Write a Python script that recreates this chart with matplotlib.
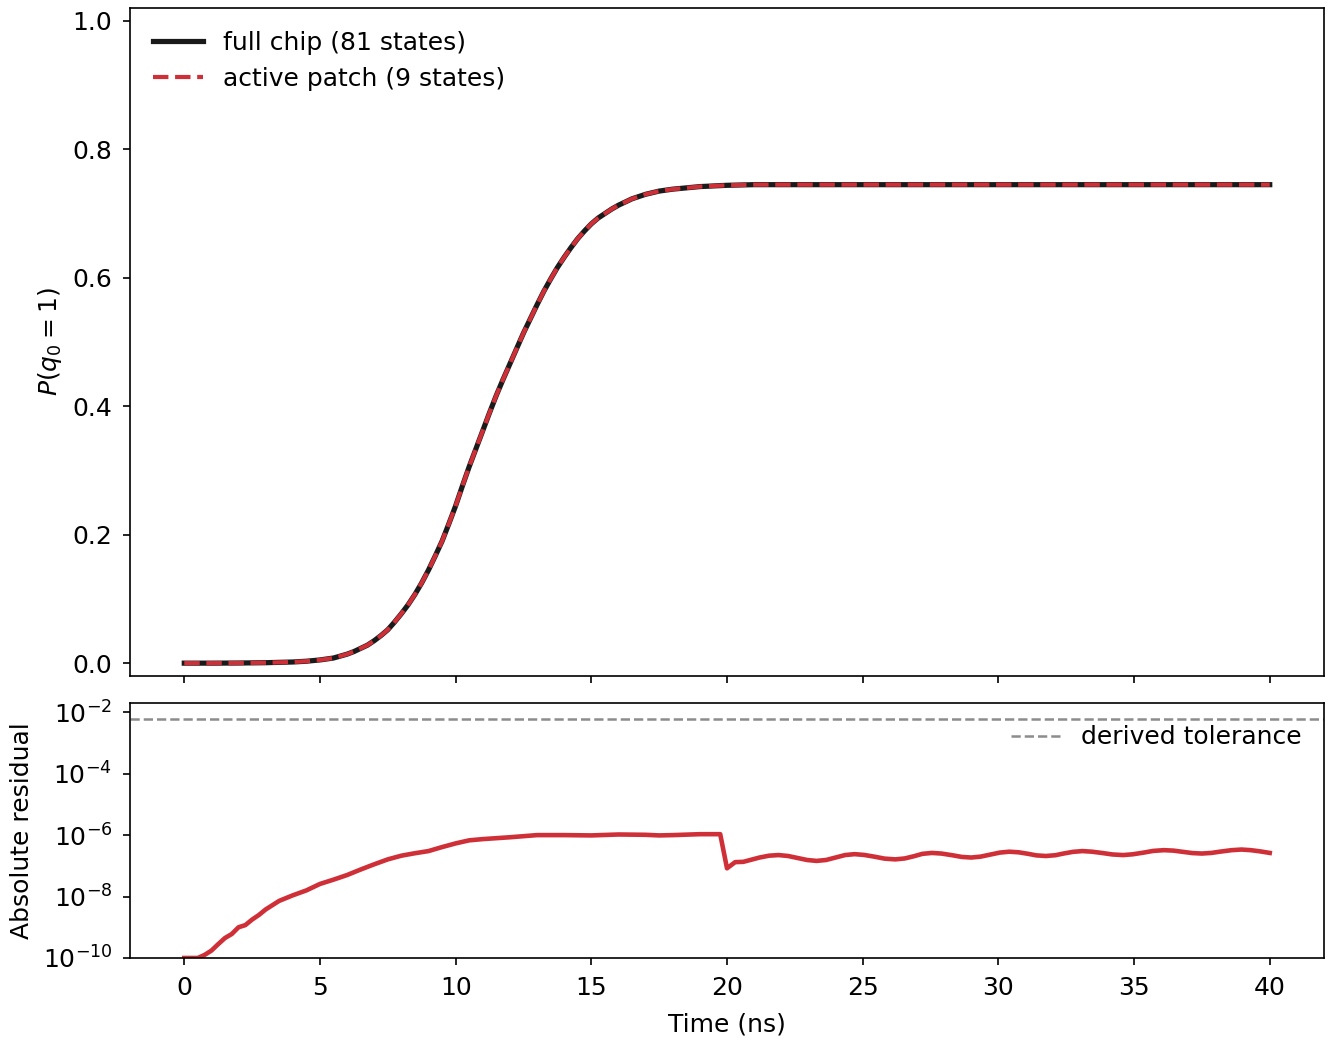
import numpy as np
import matplotlib.pyplot as plt
from matplotlib.ticker import NullLocator

plt.rcParams['font.size'] = 12
plt.rcParams['xtick.major.pad'] = 5
plt.rcParams['ytick.major.pad'] = 5

red = '#cf3038'

# population of q0
t_pop = [0, 1, 2, 3, 4, 4.5, 5, 5.5, 6, 6.25, 6.5, 6.75, 7, 7.25, 7.5, 7.75,
         8, 8.25, 8.5, 8.75, 9, 9.25, 9.5, 9.75, 10, 10.25, 10.5, 10.75, 11,
         11.25, 11.5, 11.75, 12, 12.25, 12.5, 12.75, 13, 13.25, 13.5, 13.75, 14,
         14.25, 14.5, 14.75, 15, 15.25, 15.5, 15.75, 16, 16.5, 17, 17.5, 18,
         18.5, 19, 19.5, 20, 21, 22, 24, 26, 28, 30, 32, 34, 36, 38, 40]
p_full = [0.0, 0.0, 0.0002, 0.0007, 0.0018, 0.003, 0.005, 0.008, 0.014, 0.018,
          0.023, 0.028, 0.035, 0.043, 0.052, 0.064, 0.077, 0.091, 0.107, 0.125,
          0.145, 0.167, 0.19, 0.217, 0.245, 0.276, 0.306, 0.334, 0.362, 0.390,
          0.417, 0.442, 0.466, 0.490, 0.514, 0.536, 0.558, 0.579, 0.598, 0.616,
          0.632, 0.647, 0.661, 0.673, 0.684, 0.693, 0.700, 0.707, 0.713, 0.723,
          0.730, 0.735, 0.738, 0.740, 0.742, 0.743, 0.744, 0.745, 0.745, 0.745,
          0.745, 0.745, 0.745, 0.745, 0.745, 0.745, 0.745, 0.745]
p_patch = p_full

# absolute residual |full - patch|, log10 values
t_res = [0, 0.25, 0.5, 0.75, 1.0, 1.25, 1.5, 1.75, 2.0, 2.25, 2.5, 2.75, 3.0,
         3.5, 4.0, 4.5, 5.0, 5.5, 6.0, 6.5, 7.0, 7.5, 8.0, 8.5, 9.0, 9.5, 10.0,
         10.5, 11.0, 11.5, 12.0, 13.0, 14.0, 15.0, 16.0, 17.0, 17.5, 18.0, 19.0,
         19.75, 20.0, 20.3, 20.6, 20.9, 21.2, 21.55, 21.9, 22.25, 22.6, 22.95,
         23.3, 23.65, 24.0, 24.35, 24.7, 25.05, 25.45, 25.8, 26.2, 26.55, 26.9,
         27.2, 27.55, 27.9, 28.3, 28.65, 29.0, 29.35, 29.7, 30.05, 30.4, 30.75,
         31.1, 31.4, 31.75, 32.1, 32.4, 32.75, 33.1, 33.45, 33.85, 34.2, 34.6,
         34.95, 35.35, 35.7, 36.1, 36.45, 36.8, 37.15, 37.5, 37.85, 38.2, 38.6,
         38.96, 39.3, 39.65, 40.0]
log_res = [-10.0, -10.0, -10.0, -9.9, -9.76, -9.55, -9.35, -9.22, -9.0, -8.93,
           -8.75, -8.6, -8.42, -8.14, -7.96, -7.8, -7.59, -7.45, -7.3, -7.12,
           -6.95, -6.79, -6.67, -6.59, -6.52, -6.39, -6.27, -6.17, -6.13, -6.10,
           -6.07, -6.0, -6.0, -6.01, -5.98, -5.99, -6.01, -6.0, -5.97, -5.97,
           -7.08, -6.88, -6.87, -6.8, -6.73, -6.67, -6.65, -6.68, -6.745, -6.81,
           -6.84, -6.81, -6.73, -6.65, -6.62, -6.645, -6.705, -6.765, -6.79,
           -6.76, -6.685, -6.61, -6.58, -6.60, -6.655, -6.71, -6.73, -6.70,
           -6.635, -6.57, -6.54, -6.56, -6.61, -6.66, -6.68, -6.655, -6.60,
           -6.545, -6.52, -6.54, -6.585, -6.63, -6.65, -6.625, -6.57, -6.515,
           -6.49, -6.505, -6.545, -6.585, -6.60, -6.58, -6.535, -6.49, -6.47,
           -6.49, -6.53, -6.58]
tol = 6e-3

fig, (ax1, ax2) = plt.subplots(2, 1, sharex=True, figsize=(8.88, 6.96), dpi=150,
                               gridspec_kw=dict(height_ratios=[668, 255], hspace=0.0585,
                                                left=0.0976, right=0.994,
                                                top=0.9923, bottom=0.0824))

ax1.plot(t_pop, p_full, color='0.1', lw=2.5, label='full chip (81 states)')
ax1.plot(t_pop, p_patch, color=red, lw=2, ls='--', label='active patch (9 states)')
ax1.set_ylim(-0.02, 1.02)
ax1.set_ylabel(r'$P(q_0 = 1)$')
ax1.legend(loc='upper left', frameon=False)

res = 10.0 ** np.array(log_res)
ax2.plot(t_res, res, color=red, lw=2.2)
ax2.axhline(tol, color='0.55', lw=1.2, ls='--', label='derived tolerance')
ax2.set_yscale('log')
ax2.set_ylim(1e-10, 2e-2)
ax2.set_yticks([1e-10, 1e-8, 1e-6, 1e-4, 1e-2])
ax2.yaxis.set_minor_locator(NullLocator())
ax2.set_xlim(-2, 42)
ax2.set_xlabel('Time (ns)', labelpad=6)
ax2.set_ylabel('Absolute residual')
ax2.legend(loc='upper right', frameon=False)

fig.savefig('out.png', dpi=150)
